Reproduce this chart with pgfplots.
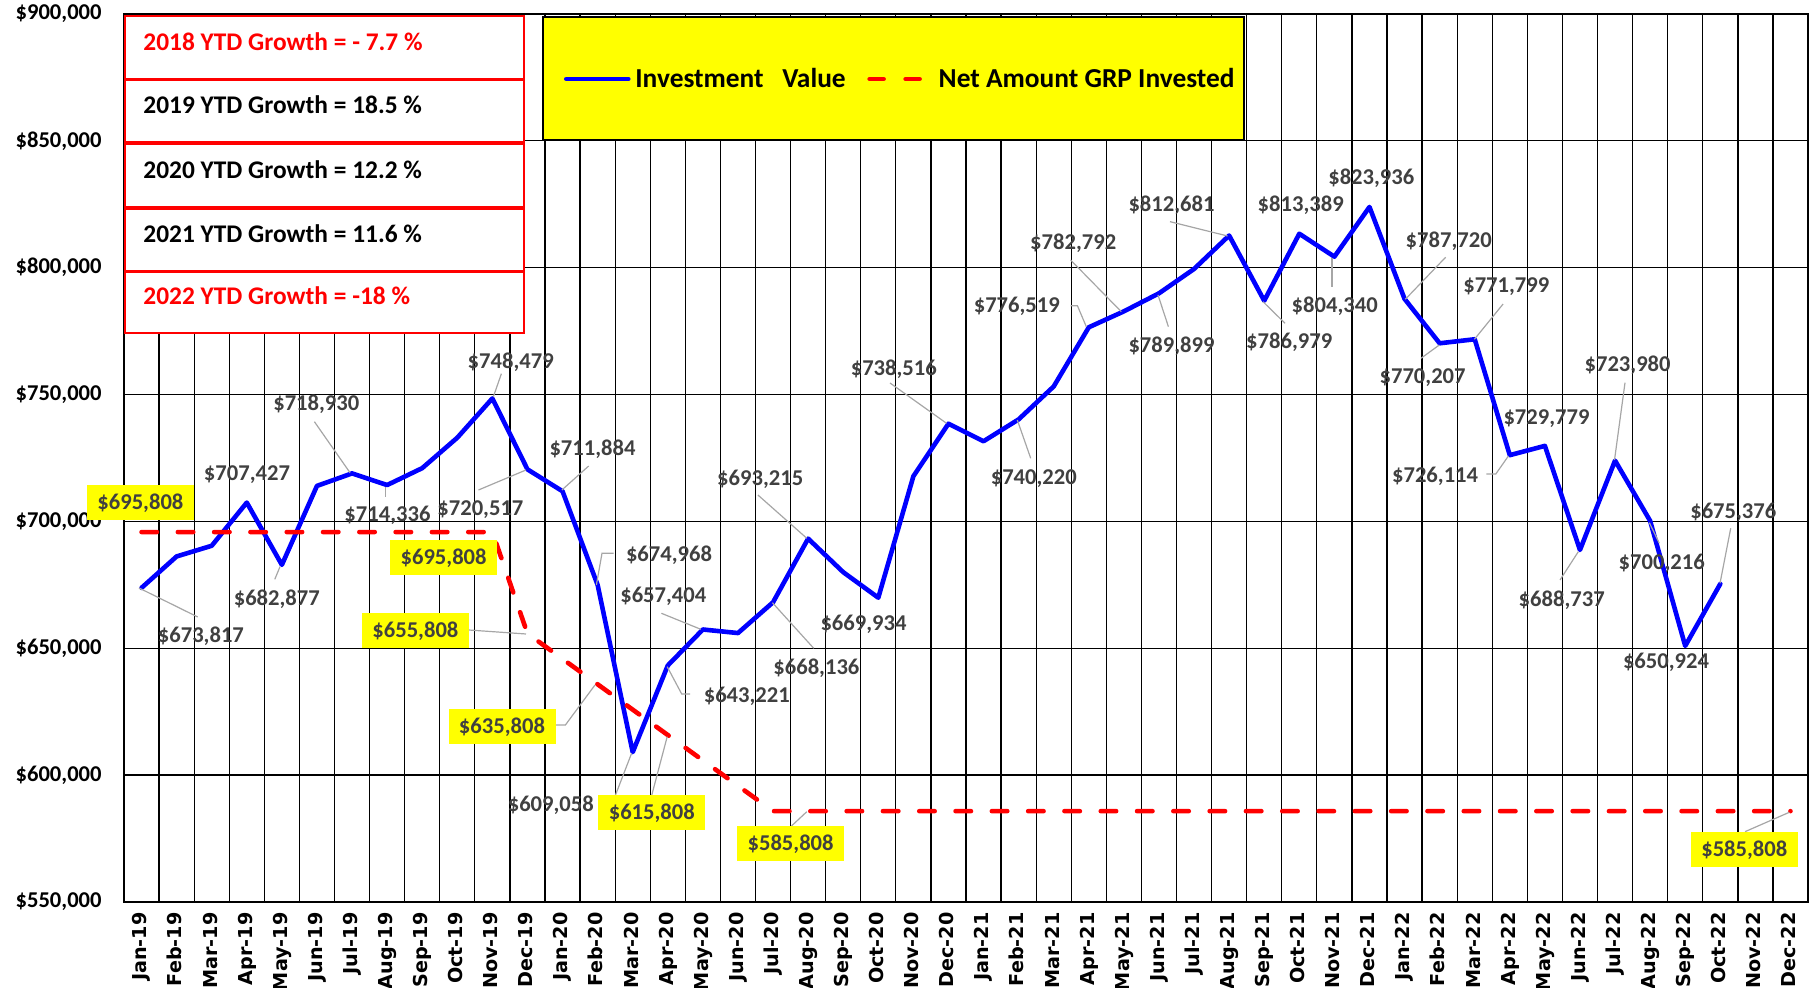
\documentclass[border=0pt]{standalone}
\usepackage{fontspec}
\setmainfont{Carlito}
\newfontfamily\dejavu{DejaVu Sans}
\usepackage{pgfplots}
\pgfplotsset{compat=1.18}
\definecolor{lblgray}{HTML}{404040}
\definecolor{leadgray}{HTML}{A6A6A6}
\definecolor{ylw}{HTML}{FFFF00}
\definecolor{bl}{HTML}{0000FF}
\definecolor{rd}{HTML}{FF0000}
\newcommand\lbl{\fontsize{11.3}{13}\selectfont\bfseries}
\tikzset{dl/.style={font=\lbl, text=lblgray, inner sep=0pt},
 ld/.style={draw=leadgray, line width=0.6pt},
 yb/.style={fill=ylw, text=lblgray, font=\lbl, minimum width=53.5pt, minimum height=17.5pt, inner sep=0pt},
 rb/.style={draw=rd, line width=1pt, fill=white},
 bt/.style={font=\fontsize{12.7}{14}\selectfont\bfseries, anchor=west, inner sep=0pt}}
\pgfplotsset{
 invleg/.style={legend image code/.code={\draw[##1] (0pt,0pt) -- (31pt,0pt);}},
 netleg/.style={legend image code/.code={\draw[##1, dash pattern=on 7pt off 11pt] (0pt,0pt) -- (27.5pt,0pt); \path (31pt,0pt);}}}
\begin{document}
\begin{tikzpicture}
\useasboundingbox (-62pt,-43pt) rectangle (848pt,451pt);
\begin{axis}[name=ax, at={(0pt,0pt)}, anchor=south west, scale only axis, width=842pt, height=444pt,
  xmin=-0.5, xmax=47.5, ymin=550000, ymax=900000,
  xtick={0,...,47},
  xticklabels={Jan-19,Feb-19,Mar-19,Apr-19,May-19,Jun-19,Jul-19,Aug-19,Sep-19,Oct-19,Nov-19,Dec-19,
    Jan-20,Feb-20,Mar-20,Apr-20,May-20,Jun-20,Jul-20,Aug-20,Sep-20,Oct-20,Nov-20,Dec-20,
    Jan-21,Feb-21,Mar-21,Apr-21,May-21,Jun-21,Jul-21,Aug-21,Sep-21,Oct-21,Nov-21,Dec-21,
    Jan-22,Feb-22,Mar-22,Apr-22,May-22,Jun-22,Jul-22,Aug-22,Sep-22,Oct-22,Nov-22,Dec-22},
  minor xtick={-0.5,0.5,...,47.5},
  xminorgrids=true, xmajorgrids=false, ymajorgrids=true,
  ytick={550000,600000,650000,700000,750000,800000,850000,900000},
  yticklabels={{\$550,000},{\$600,000},{\$650,000},{\$700,000},{\$750,000},{\$800,000},{\$850,000},{\$900,000}},
  scaled y ticks=false,
  major tick length=0pt, minor tick length=0pt,
  grid style={black, line width=0.65pt},
  minor grid style={black, line width=0.65pt},
  axis line style={black, line width=0.65pt},
  yticklabel style={font=\lbl, anchor=east, inner sep=0pt, xshift=-11pt},
  xticklabel style={font=\dejavu\bfseries\fontsize{9.6}{10}\selectfont, rotate=90, anchor=east, inner xsep=5pt, inner ysep=0pt, text height=7.2pt, text depth=1.9pt},
  legend columns=2,
  legend style={draw=none, fill=none, at={(0.26105,0.9268)}, anchor=west, inner sep=0pt,
    font=\fontsize{13.7}{15}\selectfont\bfseries, nodes={inner sep=0pt},
    /tikz/every odd column/.append style={column sep=2.4pt},
    /tikz/every even column/.append style={column sep=10.8pt}},
]
\draw[fill=ylw, draw=black, line width=1pt] (rel axis cs:0.24881,0.99662) rectangle (rel axis cs:0.66508,0.85811);
\addplot[bl, line width=2.3pt, line join=round, line cap=round, invleg] coordinates {
 (0,673817) (1,686200) (2,690400) (3,707427) (4,682877) (5,714000) (6,718930) (7,714336)
 (8,721000) (9,733000) (10,748479) (11,720517) (12,711884) (13,674968) (14,609058) (15,643221)
 (16,657404) (17,656000) (18,668136) (19,693215) (20,680000) (21,669934) (22,717800) (23,738516)
 (24,731600) (25,740220) (26,753200) (27,776519) (28,782792) (29,789899) (30,799500) (31,812681)
 (32,786979) (33,813389) (34,804340) (35,823936) (36,787720) (37,770207) (38,771799) (39,726114)
 (40,729779) (41,688737) (42,723980) (43,700216) (44,650924) (45,675376)};
\addlegendentry{Investment\ \ \ Value}
\addplot[rd, line width=2.3pt, line cap=round, dash pattern=on 7.7pt off 10.45pt, netleg] coordinates {
 (0,695808) (1,695808) (2,695808) (3,695808) (4,695808) (5,695808) (6,695808) (7,695808)
 (8,695808) (9,695808) (10,695808) (11,655808) (12,645808) (13,635808) (14,625808) (15,615808)
 (16,605808) (17,595808) (18,585808) (19,585808) (20,585808) (21,585808) (22,585808) (23,585808)
 (24,585808) (25,585808) (26,585808) (27,585808) (28,585808) (29,585808) (30,585808) (31,585808)
 (32,585808) (33,585808) (34,585808) (35,585808) (36,585808) (37,585808) (38,585808) (39,585808)
 (40,585808) (41,585808) (42,585808) (43,585808) (44,585808) (45,585808) (46,585808) (47,585808)};
\addlegendentry{Net Amount GRP Invested}
\draw[black, line width=1.2pt] (rel axis cs:0,0) -- (rel axis cs:1,0);
\end{axis}
\begin{scope}[shift={(-62pt,451pt)}, x=0.5pt, y=-0.5pt]
% YTD boxes
\draw[rb] (125,16) rectangle (524,79);
\draw[rb] (125,80) rectangle (524,142);
\draw[rb] (125,144) rectangle (524,207);
\draw[rb] (125,209) rectangle (524,271);
\draw[rb] (125,272) rectangle (524,333);
\node[bt, text=rd] at (143,41.7) {2018 YTD Growth = - 7.7 \%};
\node[bt] at (143,105) {2019 YTD Growth = 18.5 \%};
\node[bt] at (143,170) {2020 YTD Growth = 12.2 \%};
\node[bt] at (143,234) {2021 YTD Growth = 11.6 \%};
\node[bt, text=rd] at (143,296) {2022 YTD Growth = -18 \%};
% leaders
\draw[ld] (139,588) -- (197.7,617);
\draw[ld] (280,566.7) -- (274.8,579.3);
\draw[ld] (314.4,421.7) -- (350,472.7);
\draw[ld] (385.5,486.7) -- (385.5,496.7);
\draw[ld] (478.5,490) -- (526,470);
\draw[ld] (501.4,373.7) -- (493.3,397);
\draw[ld] (588.7,466) -- (561.9,490);
\draw[ld] (613.6,553.3) -- (602,553.3) -- (596.4,585);
\draw[ld] (615.5,795) -- (631.6,753.3);
\draw[ld] (690.1,694) -- (681.7,694) -- (667.2,666.7);
\draw[ld] (661.4,613.3) -- (700.8,629.3);
\draw[ld] (757.9,495) -- (806.8,538.3);
\draw[ld] (813.7,648.3) -- (772.4,602.7);
\draw[ld] (890,383) -- (946.5,423.3);
\draw[ld] (1030.7,458.3) -- (1017.3,420);
\draw[ld] (1070.6,305.7) -- (1077.4,305.7) -- (1086.3,326.7);
\draw[ld] (1070.6,260) -- (1121.3,311.7);
\draw[ld] (1168.4,326.7) -- (1158,295);
\draw[ld] (1170,221.7) -- (1227.5,236);
\draw[ld] (1285,323.3) -- (1263,301.7);
\draw[ld] (1332,286.7) -- (1332,258.3);
\draw[ld] (1445.6,257.3) -- (1405.3,299.3);
\draw[ld] (1421,358.3) -- (1439.3,345);
\draw[ld] (1503.1,304) -- (1474.4,339.3);
\draw[ld] (1486.4,474) -- (1495.8,474) -- (1508.4,456);
\draw[ld] (1560,580) -- (1578.3,551.7);
\draw[ld] (1625,382.7) -- (1614.5,460);
\draw[ld] (1659.3,543.3) -- (1649.3,522.7);
\draw[ld] (1730.7,528.3) -- (1720,583.3);
\draw[ld] (468.6,630) -- (526,634);
\draw[ld] (554.8,725) -- (565.4,725) -- (595,685);
\draw[ld] (651.8,795) -- (667.2,736.7);
\draw[ld] (791.5,826) -- (806.8,811.7);
\draw[ld] (1745,831.7) -- (1789.3,812.3);
% data labels
\node[dl] at (200.9,636) {\$673,817};
\node[dl] at (247,474.3) {\$707,427};
\node[dl] at (276.8,599.3) {\$682,877};
\node[dl] at (316.3,404.3) {\$718,930};
\node[dl] at (387.5,515) {\$714,336};
\node[dl] at (480.4,509.3) {\$720,517};
\node[dl] at (510.7,362) {\$748,479};
\node[dl] at (592.5,449.3) {\$711,884};
\node[dl] at (669,555) {\$674,968};
\node[dl] at (550.8,805) {\$609,058};
\node[dl] at (746.8,696) {\$643,221};
\node[dl] at (663.3,596) {\$657,404};
\node[dl] at (760.2,479) {\$693,215};
\node[dl] at (816.4,668.7) {\$668,136};
\node[dl] at (863.5,624) {\$669,934};
\node[dl] at (893.8,369) {\$738,516};
\node[dl] at (1033.8,478.7) {\$740,220};
\node[dl] at (1016.8,306.4) {\$776,519};
\node[dl] at (1073.2,243.3) {\$782,792};
\node[dl] at (1171.5,346) {\$789,899};
\node[dl] at (1171.5,205) {\$812,681};
\node[dl] at (1289.2,342.7) {\$786,979};
\node[dl] at (1300.7,205) {\$813,389};
\node[dl] at (1334.7,306.7) {\$804,340};
\node[dl] at (1371.3,178.3) {\$823,936};
\node[dl] at (1448.7,241.7) {\$787,720};
\node[dl] at (1422.6,377.7) {\$770,207};
\node[dl] at (1506.3,286.7) {\$771,799};
\node[dl] at (1435.1,476) {\$726,114};
\node[dl] at (1546.5,418.3) {\$729,779};
\node[dl] at (1561.7,600.7) {\$688,737};
\node[dl] at (1627.6,365) {\$723,980};
\node[dl] at (1661.7,563.3) {\$700,216};
\node[dl] at (1666,662.7) {\$650,924};
\node[dl] at (1733.3,512.5) {\$675,376};
% yellow labels
\node[yb] at (140.4,502.8) {\$695,808};
\node[yb] at (443.6,557.8) {\$695,808};
\node[yb] at (415.4,631) {\$655,808};
\node[yb] at (502,727) {\$635,808};
\node[yb] at (651.8,812.8) {\$615,808};
\node[yb] at (790.6,843.8) {\$585,808};
\node[yb] at (1744.3,849.8) {\$585,808};
\end{scope}
\end{tikzpicture}
\end{document}
